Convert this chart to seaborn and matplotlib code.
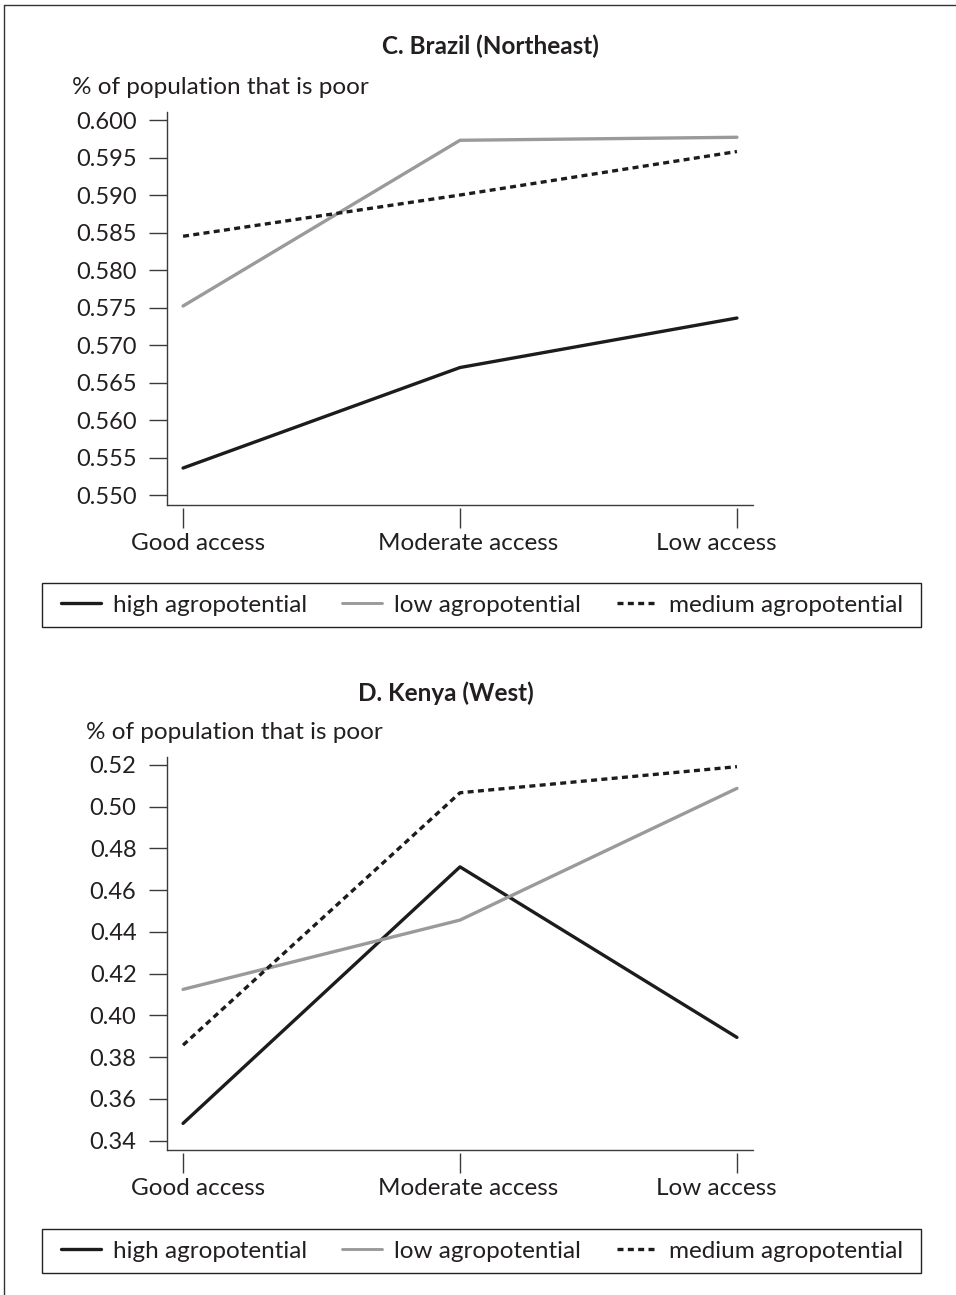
import numpy as np
import pandas as pd
import matplotlib
matplotlib.use("Agg")
import matplotlib.pyplot as plt
import matplotlib.transforms as mtransforms
from matplotlib.lines import Line2D
from matplotlib.patches import Rectangle
import seaborn as sns

# ---------------- data ----------------
access = ["Good access", "Moderate access", "Low access"]
series_names = ["high agropotential", "low agropotential", "medium agropotential"]

brazil_high = [0.5536, 0.5670, 0.5736]
brazil_low = [0.5752, 0.5973, 0.5977]
brazil_medium = [0.5845, 0.5900, 0.5958]

kenya_high = [0.3483, 0.4712, 0.3895]
kenya_low = [0.4125, 0.4457, 0.5088]
kenya_medium = [0.3858, 0.5067, 0.5192]

brazil_ticks = [0.550, 0.555, 0.560, 0.565, 0.570, 0.575, 0.580, 0.585, 0.590, 0.595, 0.600]
kenya_ticks = [0.34, 0.36, 0.38, 0.40, 0.42, 0.44, 0.46, 0.48, 0.50, 0.52]

titles = ["C. Brazil (Northeast)", "D. Kenya (West)"]
ylabel_text = "% of population that is poor"

# ---------------- style ----------------
sns.set_theme(style="white")
plt.rcParams["font.family"] = ["Lato", "DejaVu Sans"]
TXT = "#231f20"
SPINE = "#3a3a3a"
plt.rcParams["text.color"] = TXT
plt.rcParams["xtick.color"] = SPINE
plt.rcParams["ytick.color"] = SPINE
plt.rcParams["xtick.labelcolor"] = TXT
plt.rcParams["ytick.labelcolor"] = TXT

palette = {"high agropotential": "#1c1c1c",
           "low agropotential": "#9a9a9a",
           "medium agropotential": "#1c1c1c"}
dashes = {"high agropotential": "",
          "low agropotential": "",
          "medium agropotential": (1.8, 1.3)}

W, H = 956, 1295
fig = plt.figure(figsize=(W / 100, H / 100), dpi=100)


def long_df(high, low, medium):
    rows = []
    for name, vals in zip(series_names, [high, low, medium]):
        for a, v in zip(access, vals):
            rows.append({"access": a, "value": v, "agro": name})
    return pd.DataFrame(rows)


panels = [
    dict(df=long_df(brazil_high, brazil_low, brazil_medium), ticks=brazil_ticks, fmt="%.3f",
         ylim=(0.54867, 0.60107), ax_top=112, ax_bot=505, title_y=46, title_x=490,
         ylab_x=72, ylab_y=88, leg_top=583, leg_bot=627),
    dict(df=long_df(kenya_high, kenya_low, kenya_medium), ticks=kenya_ticks, fmt="%.2f",
         ylim=(0.33555, 0.52383), ax_top=757, ax_bot=1150, title_y=693, title_x=446,
         ylab_x=86, ylab_y=732, leg_top=1229, leg_bot=1273),
]

ax_left, ax_right = 167, 753
FS_Y = 17
FS = 17.5

for title, p in zip(titles, panels):
    ax = fig.add_axes([ax_left / W, 1 - p["ax_bot"] / H,
                       (ax_right - ax_left) / W, (p["ax_bot"] - p["ax_top"]) / H])
    sns.lineplot(data=p["df"], x="access", y="value", hue="agro", style="agro",
                 palette=palette, dashes=dashes, sort=False, linewidth=2.4,
                 ax=ax, legend=True)
    for line in ax.get_lines():
        if line.get_label() == "low agropotential":
            line.set_linewidth(2.1)
    handles, labels = ax.get_legend_handles_labels()
    ax.get_legend().remove()
    for h in handles:
        if h.get_label() == "low agropotential":
            h.set_linewidth(2.1)

    ax.set_xlim(-0.058, 2.058)
    ax.set_ylim(*p["ylim"])
    ax.set_yticks(p["ticks"])
    ax.yaxis.set_major_formatter(matplotlib.ticker.FormatStrFormatter(p["fmt"]))
    ax.set_xlabel("")
    ax.set_ylabel("")

    for s in ["top", "right"]:
        ax.spines[s].set_visible(False)
    ax.spines["left"].set_color(SPINE)
    ax.spines["left"].set_linewidth(1.0)
    ax.spines["bottom"].set_position(("outward", 2.5))
    ax.spines["bottom"].set_visible(False)
    ax.axhline(p["ylim"][0], color=SPINE, lw=1.0, clip_on=False)

    ax.tick_params(axis="y", left=True, direction="out", length=13, width=1.0, pad=9,
                   labelsize=FS_Y)
    ax.tick_params(axis="x", bottom=True, direction="out", length=14.5, width=1.0, pad=3,
                   labelsize=FS)
    # label offsets relative to their ticks, as in the reference
    for lab, dx in zip(ax.get_xticklabels(), [15, 8, -21]):
        lab.set_transform(lab.get_transform() +
                          mtransforms.ScaledTranslation(dx / 100, 0, fig.dpi_scale_trans))

    fig.text(p["title_x"] / W, 1 - p["title_y"] / H, title, ha="center", va="center",
             fontsize=17.5, fontweight="bold", color=TXT)
    fig.text(p["ylab_x"] / W, 1 - p["ylab_y"] / H, ylabel_text, ha="left", va="center",
             fontsize=FS, color=TXT)

    # legend frame
    lx0, lx1 = 42, 921
    fig.add_artist(Rectangle((lx0 / W, 1 - p["leg_bot"] / H), (lx1 - lx0) / W,
                             (p["leg_bot"] - p["leg_top"]) / H, transform=fig.transFigure,
                             fill=False, edgecolor="#222222", lw=1.0))
    yc = 1 - (p["leg_top"] + p["leg_bot"]) / 2 / H
    leg = fig.legend(handles, labels, loc="center left", ncol=3,
                     bbox_to_anchor=(61 / W, yc), bbox_transform=fig.transFigure,
                     fontsize=FS, frameon=False, borderaxespad=0, borderpad=0,
                     handlelength=1.65, handletextpad=0.49, columnspacing=1.45)
    for t in leg.get_texts():
        t.set_color(TXT)

# figure border (top and left)
fig.add_artist(Line2D([4 / W, 1], [1 - 5 / H, 1 - 5 / H], transform=fig.transFigure,
                      color="#333333", lw=1.0))
fig.add_artist(Line2D([4 / W, 4 / W], [0, 1 - 5 / H], transform=fig.transFigure,
                      color="#333333", lw=1.0))

fig.savefig("out.png", dpi=100)
